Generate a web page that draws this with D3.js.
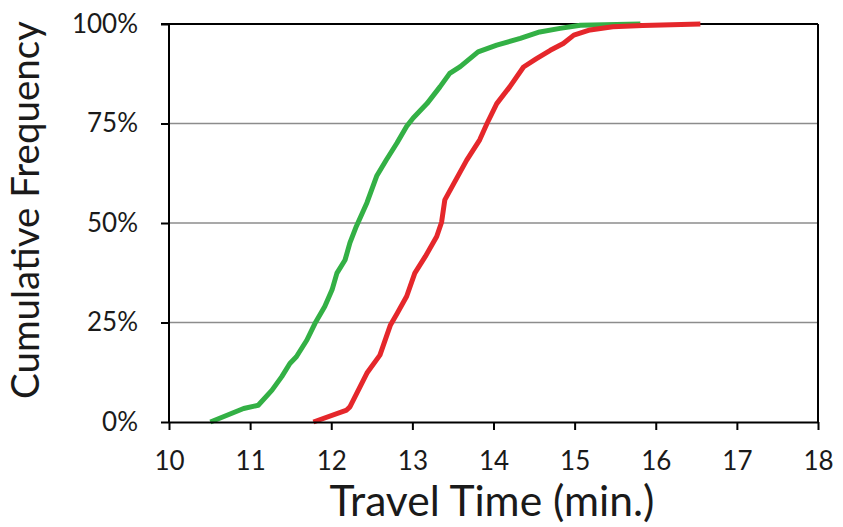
<!DOCTYPE html>
<html>
<head>
<meta charset="utf-8">
<script src="https://cdn.jsdelivr.net/npm/d3@7"></script>
<style>
  html, body { margin: 0; padding: 0; background: #fff; }
  svg { display: block; }
  text { font-family: Lato, "Open Sans", sans-serif; fill: #1a1a1a; }
</style>
</head>
<body>
<svg id="chart" width="843" height="527"></svg>
<script>
// ---- data ----
const xTicks = [10, 11, 12, 13, 14, 15, 16, 17, 18];
const yTicks = [0, 0.25, 0.5, 0.75, 1];
const xTitle = "Travel Time (min.)";
const yTitle = "Cumulative Frequency";

const greenTime = [10.51, 10.92, 11.10, 11.27, 11.39, 11.49, 11.57, 11.70, 11.80, 11.92, 12.01, 12.07, 12.17, 12.23, 12.31, 12.44, 12.56, 12.68, 12.81, 12.93, 13.01, 13.18, 13.34, 13.46, 13.59, 13.81, 14.04, 14.33, 14.57, 14.82, 15.07, 15.81];
const greenFreq = [0.000, 0.034, 0.042, 0.080, 0.114, 0.147, 0.164, 0.206, 0.248, 0.290, 0.332, 0.374, 0.407, 0.450, 0.492, 0.551, 0.618, 0.659, 0.701, 0.743, 0.764, 0.800, 0.842, 0.876, 0.893, 0.930, 0.947, 0.964, 0.980, 0.989, 0.997, 1.000];

const redTime = [11.78, 12.19, 12.23, 12.44, 12.60, 12.73, 12.81, 12.93, 13.03, 13.16, 13.30, 13.36, 13.40, 13.51, 13.67, 13.83, 13.92, 14.04, 14.20, 14.37, 14.53, 14.70, 14.86, 14.99, 15.19, 15.47, 15.84, 16.55];
const redFreq = [0.000, 0.030, 0.038, 0.123, 0.168, 0.244, 0.272, 0.316, 0.374, 0.416, 0.466, 0.502, 0.558, 0.599, 0.658, 0.709, 0.750, 0.800, 0.842, 0.892, 0.913, 0.934, 0.951, 0.972, 0.985, 0.993, 0.996, 1.000];

const series = [
  { name: "green", time: greenTime, freq: greenFreq, color: "#33b045" },
  { name: "red", time: redTime, freq: redFreq, color: "#e5272b" }
];

// ---- layout ----
const svg = d3.select("#chart");
const x = d3.scaleLinear().domain([10, 18]).range([169, 818]);
const y = d3.scaleLinear().domain([0, 1]).range([422, 24]);

// gridlines
svg.append("g")
  .selectAll("line")
  .data(yTicks.filter(d => d > 0 && d < 1))
  .join("line")
  .attr("x1", x.range()[0]).attr("x2", x.range()[1])
  .attr("y1", d => y(d)).attr("y2", d => y(d))
  .attr("stroke", "#8c8c8c").attr("stroke-width", 1.6);

// top & right frame
svg.append("line")
  .attr("x1", x(10) - 8).attr("x2", x(18)).attr("y1", y(1)).attr("y2", y(1))
  .attr("stroke", "#000").attr("stroke-width", 2);
svg.append("line")
  .attr("x1", x(18)).attr("x2", x(18)).attr("y1", y(1)).attr("y2", y(0))
  .attr("stroke", "#000").attr("stroke-width", 2);

// series lines
const line = d3.line().x(d => x(d[0])).y(d => y(d[1]));
svg.append("g").selectAll("path")
  .data(series)
  .join("path")
  .attr("d", s => line(s.time.map((t, i) => [t, s.freq[i]])))
  .attr("fill", "none")
  .attr("stroke", s => s.color)
  .attr("stroke-width", 5)
  .attr("stroke-linejoin", "round")
  .attr("stroke-linecap", "butt");

// axes
const xAxis = d3.axisBottom(x).tickValues(xTicks).tickFormat(d3.format("d")).tickSize(8).tickSizeOuter(0).tickPadding(22);
const yAxis = d3.axisLeft(y).tickValues(yTicks).tickFormat(d3.format(".0%")).tickSize(8).tickSizeOuter(0).tickPadding(23);

const gx = svg.append("g").attr("transform", `translate(0,${y(0)})`).call(xAxis);
const gy = svg.append("g").attr("transform", `translate(${x(10)},0)`).call(yAxis);

[gx, gy].forEach(g => {
  g.select(".domain").attr("stroke", "#000").attr("stroke-width", 2);
  g.selectAll(".tick line").attr("stroke", "#000").attr("stroke-width", 2);
  g.selectAll(".tick text")
    .attr("fill", "#1a1a1a")
    .style("font-family", "Lato, 'Open Sans', sans-serif")
    .style("font-size", "26px");
});
gy.select(".domain").attr("d", `M0,${y(0)}V${y(1)}`);
gx.selectAll(".tick text").attr("dy", "0.71em");

// axis titles
const xt = svg.append("text")
  .attr("x", 492).attr("y", 516)
  .attr("text-anchor", "middle")
  .style("font-size", "34px")
  .text(xTitle);
const yt = svg.append("text")
  .attr("transform", `translate(39,210) rotate(-90)`)
  .attr("text-anchor", "middle")
  .style("font-size", "34px")
  .text(yTitle);

// fit title widths to the reference extents
function fit(sel, target) {
  const w = sel.node().getComputedTextLength();
  const fs = parseFloat(sel.style("font-size"));
  sel.style("font-size", (fs * target / w) + "px");
}
fit(xt, 325);
fit(yt, 378);
</script>
</body>
</html>
